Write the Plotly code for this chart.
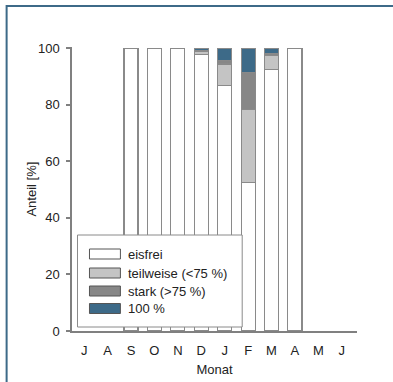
import plotly.graph_objects as go

# Monthly ice-cover shares (%), hydrological year July–June
months = ["J", "A", "S", "O", "N", "D", "J ", "F", "M", "A ", "M ", "J  "]
month_labels = ["J", "A", "S", "O", "N", "D", "J", "F", "M", "A", "M", "J"]

# None = no share recorded for that month
eisfrei   = [None, None, 100, 100, 100, 97.7, 86.9, 52.5, 92.3, 100, None, None]
teilweise = [None, None, None, None, None, 1.2, 7.5, 25.7, 5.0, None, None, None]
stark     = [None, None, None, None, None, 0.3, 1.3, 13.1, 0.8, None, None, None]
voll      = [None, None, None, None, None, 0.8, 4.3, 8.7, 1.9, None, None, None]

series_names = ["eisfrei", "teilweise (<75 %)", "stark (>75 %)", "100 %"]
series_values = [eisfrei, teilweise, stark, voll]
series_colors = ["#ffffff", "#c4c4c4", "#878787", "#3d6a88"]

W, H = 393, 382
L, R, T, B = 71.5, 36, 47, 51
pw, ph = W - L - R, H - T - B


def px_x(x):
    return (x - L) / pw


def px_y(y):
    return (H - B - y) / ph


fig = go.Figure()
for name, vals, col in zip(series_names, series_values, series_colors):
    fig.add_trace(go.Bar(
        x=months, y=vals, name=name, width=0.6,
        marker=dict(color=col, line=dict(color="#8a8a8a", width=1.1)),
        showlegend=False,
    ))

font = dict(family="Liberation Sans, Arial, sans-serif", size=13, color="#222222")

shapes = []
annotations = []

# legend box
shapes.append(dict(type="rect", xref="paper", yref="paper",
                   x0=px_x(77), x1=px_x(242), y0=px_y(327), y1=px_y(235),
                   fillcolor="white", line=dict(color="#8a8a8a", width=1),
                   layer="above"))
legend_y = [254, 273, 291, 308.5]
for name, col, cy in zip(series_names, series_colors, legend_y):
    shapes.append(dict(type="rect", xref="paper", yref="paper",
                       x0=px_x(89), x1=px_x(120), y0=px_y(cy + 5), y1=px_y(cy - 5),
                       fillcolor=col, line=dict(color="#555555", width=1),
                       layer="above"))
    annotations.append(dict(xref="paper", yref="paper", x=px_x(126), y=px_y(cy),
                            text=name, showarrow=False, xanchor="left",
                            yanchor="middle", font=font))

# y-axis title
annotations.append(dict(xref="paper", yref="paper", x=px_x(30), y=px_y(189),
                        text="Anteil [%]", showarrow=False, textangle=-90,
                        xanchor="center", yanchor="middle", font=font))

# outer frame (open to the right and bottom)
shapes.append(dict(type="rect", xref="paper", yref="paper",
                   x0=px_x(6), x1=px_x(420), y0=px_y(420), y1=px_y(6),
                   line=dict(color="#3d6a88", width=2), fillcolor="rgba(0,0,0,0)",
                   layer="above"))

fig.update_layout(
    width=W, height=H,
    margin=dict(l=L, r=R, t=T, b=B, pad=0),
    paper_bgcolor="white", plot_bgcolor="white",
    barmode="stack", bargap=0.4,
    font=font,
    shapes=shapes, annotations=annotations,
    xaxis=dict(
        type="category", categoryorder="array", categoryarray=months,
        tickmode="array", tickvals=months, ticktext=month_labels,
        range=[-0.52, 11.65], showgrid=False, zeroline=False,
        showline=True, linecolor="#808080", linewidth=1.5,
        ticks="", ticklabelstandoff=7,
        title=dict(text="Monat", standoff=8, font=font),
        automargin=False,
    ),
    yaxis=dict(
        range=[0, 100.4], tickvals=[0, 20, 40, 60, 80, 100],
        showgrid=False, zeroline=False,
        showline=True, linecolor="#808080", linewidth=1.5,
        ticks="outside", ticklen=4, tickcolor="#808080", tickwidth=1.5,
        ticklabelstandoff=4,
        automargin=False,
    ),
)

fig.write_html("out.html")
